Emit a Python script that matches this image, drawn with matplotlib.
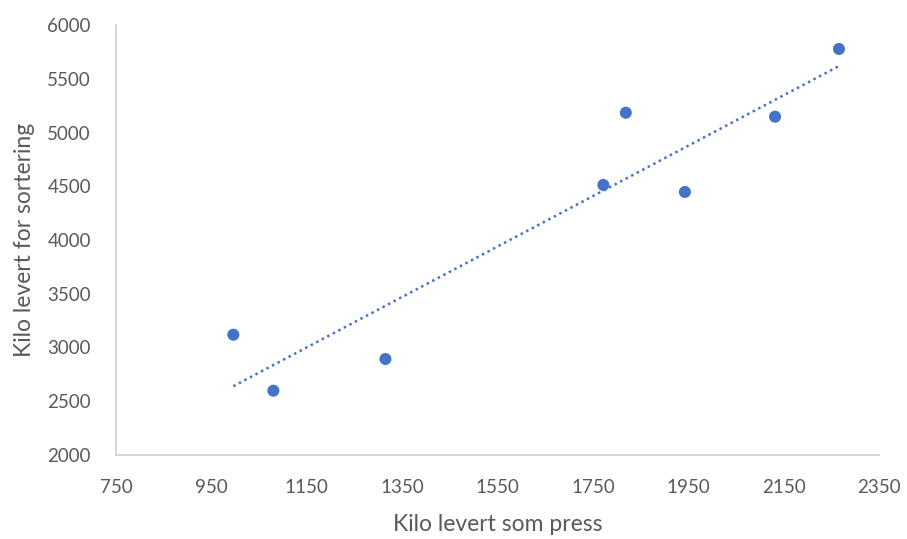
import matplotlib
matplotlib.use("Agg")
import matplotlib.pyplot as plt
import numpy as np

plt.rcParams['font.family'] = ['Lato', 'DejaVu Sans']

press_kg = [996, 1080, 1315, 1772, 1819, 1943, 2132, 2266]
sortering_kg = [3119, 2598, 2893, 4512, 5184, 4447, 5147, 5777]
x_ticks = [750, 950, 1150, 1350, 1550, 1750, 1950, 2150, 2350]
y_ticks = [2000, 2500, 3000, 3500, 4000, 4500, 5000, 5500, 6000]

blue = '#4472C4'
gray_text = '#595959'
axis_gray = '#D0D0D0'

fig = plt.figure(figsize=(9.07, 5.39), dpi=100)
ax = fig.add_axes([116/907, 1 - 455/539, (879-116)/907, (455-25)/539])

x = np.array(press_kg, dtype=float)
y = np.array(sortering_kg, dtype=float)
slope, intercept = np.polyfit(x, y, 1)
xs = np.array([x.min(), x.max()])
ax.plot(xs, slope * xs + intercept, color=blue, linestyle=(0, (1, 1.5)), linewidth=1.8, zorder=2)
ax.scatter(x, y, s=75, color=blue, zorder=3, edgecolors='none')

ax.set_xlim(750, 2350)
ax.set_ylim(2000, 6000)
ax.set_xticks(x_ticks)
ax.set_yticks(y_ticks)
ax.tick_params(axis='both', length=0, labelsize=13.5, colors=gray_text)
ax.tick_params(axis='y', pad=18)
ax.tick_params(axis='x', pad=17)
for side in ['top', 'right']:
    ax.spines[side].set_visible(False)
for side in ['left', 'bottom']:
    ax.spines[side].set_color(axis_gray)
    ax.spines[side].set_linewidth(1.2)

ax.set_xlabel('Kilo levert som press', fontsize=16.5, color=gray_text, labelpad=13)
ax.set_ylabel('Kilo levert for sortering', fontsize=16.5, color=gray_text, labelpad=9)

fig.savefig('out.png', dpi=100)
